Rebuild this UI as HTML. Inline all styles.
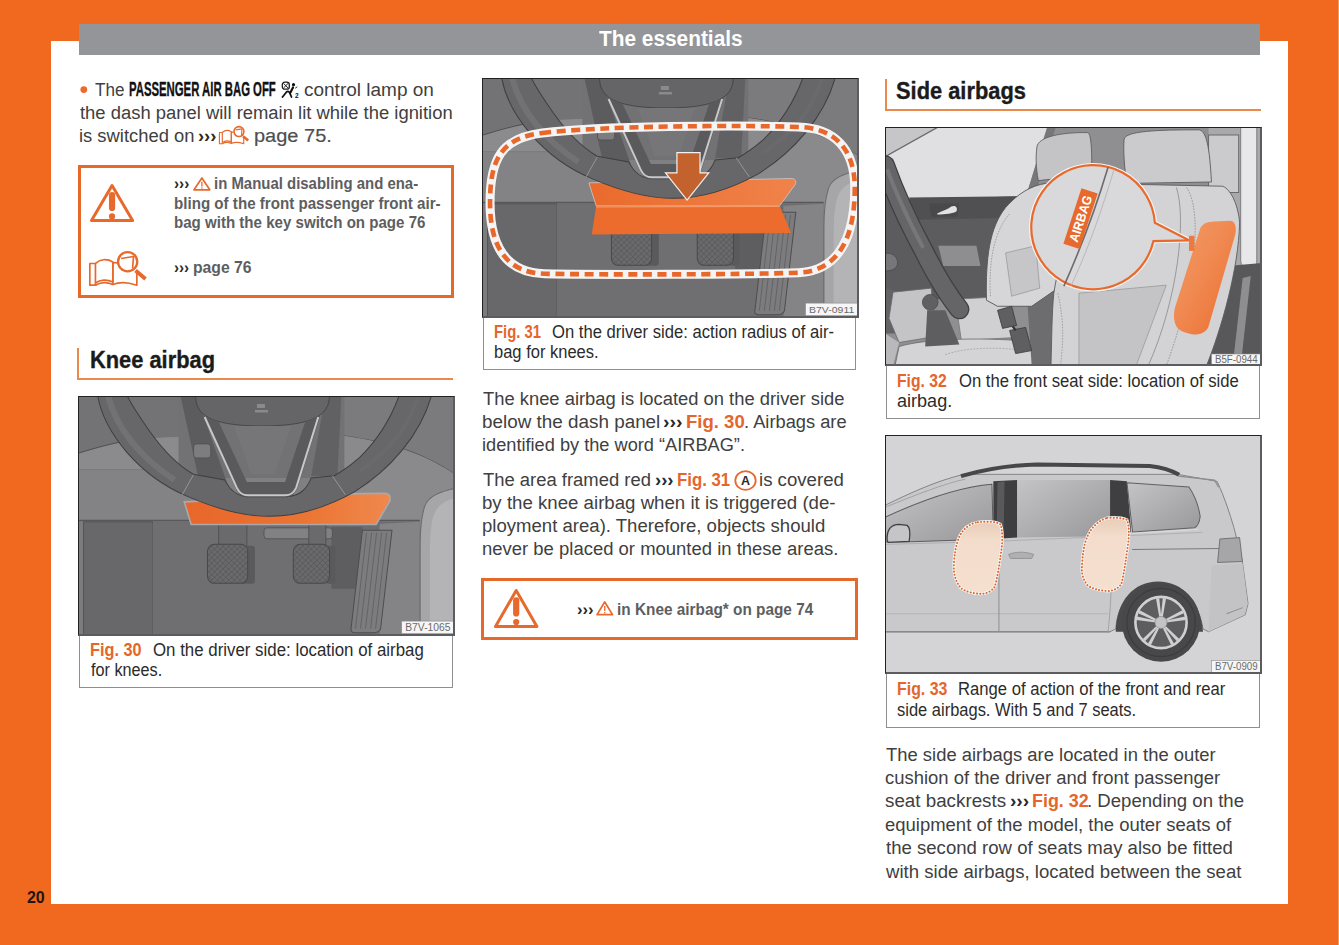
<!DOCTYPE html>
<html><head><meta charset="utf-8"><style>
html,body{margin:0;padding:0}
body{width:1339px;height:945px;overflow:hidden;position:relative;background:#f1681f;font-family:"Liberation Sans",sans-serif}
.t{position:absolute;white-space:nowrap;transform-origin:0 0}
svg{position:absolute;display:block}
</style></head><body>
<div style="position:absolute;left:51px;top:41px;width:1237px;height:863px;background:#ffffff;"></div><div style="position:absolute;left:79px;top:24px;width:1181px;height:31px;background:#939598;"></div><div style="position:absolute;left:1338px;top:0px;width:1px;height:945px;background:#fb9a5c;"></div><div class="t" style="left:598.60px;top:27.68px;font-size:22px;line-height:22px;font-weight:700;color:#ffffff;transform:scaleX(0.9470);">The essentials</div><div class="t" style="left:27.00px;top:889.03px;font-size:16.5px;line-height:16.5px;font-weight:700;color:#1e1410;transform:scaleX(0.9667);">20</div><div class="t" style="left:95.10px;top:79.55px;font-size:19.2px;line-height:19.2px;font-weight:400;color:#404040;transform:scaleX(0.8909);">The</div><div class="t" style="left:129.43px;top:79.37px;font-size:20px;line-height:20px;font-weight:700;color:#111111;transform:scaleX(0.5669);-webkit-text-stroke:0.35px #111111;">PASSENGER AIR BAG OFF</div><div class="t" style="left:303.81px;top:79.55px;font-size:19.2px;line-height:19.2px;font-weight:400;color:#404040;transform:scaleX(0.9899);">control lamp on</div><div class="t" style="left:79.70px;top:102.75px;font-size:19.2px;line-height:19.2px;font-weight:400;color:#404040;transform:scaleX(0.9599);">the dash panel will remain lit while the ignition</div><div class="t" style="left:78.54px;top:125.95px;font-size:19.2px;line-height:19.2px;font-weight:400;color:#404040;transform:scaleX(0.9576);">is switched on</div><div class="t" style="left:197.54px;top:126.12px;font-size:19px;line-height:19px;font-weight:700;color:#2a2a2a;transform:scaleX(0.9647);">&#8250;&#8250;&#8250;</div><div class="t" style="left:254.16px;top:125.95px;font-size:19.2px;line-height:19.2px;font-weight:400;color:#4e4e50;transform:scaleX(1.0417);-webkit-text-stroke:0.2px #4e4e50;">page 75.</div><div class="t" style="left:173.80px;top:175.31px;font-size:17px;line-height:17px;font-weight:700;color:#2a2a2a;transform:scaleX(0.9000);">&#8250;&#8250;&#8250;</div><div class="t" style="left:213.52px;top:175.31px;font-size:17px;line-height:17px;font-weight:700;color:#5d5e60;transform:scaleX(0.8784);">in Manual disabling and ena-</div><div class="t" style="left:173.81px;top:194.81px;font-size:17px;line-height:17px;font-weight:700;color:#5d5e60;transform:scaleX(0.8906);">bling of the front passenger front air-</div><div class="t" style="left:173.81px;top:214.21px;font-size:17px;line-height:17px;font-weight:700;color:#5d5e60;transform:scaleX(0.8872);">bag with the key switch on page 76</div><div class="t" style="left:173.91px;top:258.91px;font-size:17px;line-height:17px;font-weight:700;color:#2a2a2a;transform:scaleX(0.8933);">&#8250;&#8250;&#8250;</div><div class="t" style="left:192.67px;top:258.91px;font-size:17px;line-height:17px;font-weight:700;color:#5d5e60;transform:scaleX(0.9258);">page 76</div><div class="t" style="left:89.55px;top:349.23px;font-size:23px;line-height:23px;font-weight:700;color:#1b1b1b;transform:scaleX(0.9496);-webkit-text-stroke:0.35px #1b1b1b;">Knee airbag</div><div class="t" style="left:896.45px;top:79.73px;font-size:23px;line-height:23px;font-weight:700;color:#1b1b1b;transform:scaleX(0.9496);-webkit-text-stroke:0.35px #1b1b1b;">Side airbags</div><div class="t" style="left:89.67px;top:642.19px;font-size:17.5px;line-height:17.5px;font-weight:700;color:#e5662b;transform:scaleX(0.9296);">Fig. 30</div><div class="t" style="left:152.94px;top:642.19px;font-size:17.5px;line-height:17.5px;font-weight:400;color:#2b2b2b;transform:scaleX(0.9631);">On the driver side: location of airbag</div><div class="t" style="left:90.60px;top:661.99px;font-size:17.5px;line-height:17.5px;font-weight:400;color:#2b2b2b;transform:scaleX(0.9267);">for knees.</div><div class="t" style="left:493.65px;top:323.69px;font-size:17.5px;line-height:17.5px;font-weight:700;color:#e5662b;transform:scaleX(0.8463);">Fig. 31</div><div class="t" style="left:551.85px;top:323.69px;font-size:17.5px;line-height:17.5px;font-weight:400;color:#2b2b2b;transform:scaleX(0.9505);">On the driver side: action radius of air-</div><div class="t" style="left:493.56px;top:343.99px;font-size:17.5px;line-height:17.5px;font-weight:400;color:#2b2b2b;transform:scaleX(0.9435);">bag for knees.</div><div class="t" style="left:897.20px;top:372.89px;font-size:17.5px;line-height:17.5px;font-weight:700;color:#e5662b;transform:scaleX(0.8963);">Fig. 32</div><div class="t" style="left:958.75px;top:372.89px;font-size:17.5px;line-height:17.5px;font-weight:400;color:#2b2b2b;transform:scaleX(0.9524);">On the front seat side: location of side</div><div class="t" style="left:897.07px;top:393.49px;font-size:17.5px;line-height:17.5px;font-weight:400;color:#2b2b2b;transform:scaleX(1.0314);">airbag.</div><div class="t" style="left:896.89px;top:681.29px;font-size:17.5px;line-height:17.5px;font-weight:700;color:#e5662b;transform:scaleX(0.9093);">Fig. 33</div><div class="t" style="left:958.35px;top:681.29px;font-size:17.5px;line-height:17.5px;font-weight:400;color:#2b2b2b;transform:scaleX(0.9507);">Range of action of the front and rear</div><div class="t" style="left:896.86px;top:701.99px;font-size:17.5px;line-height:17.5px;font-weight:400;color:#2b2b2b;transform:scaleX(0.9418);">side airbags. With 5 and 7 seats.</div><div class="t" style="left:482.50px;top:388.65px;font-size:19.2px;line-height:19.2px;font-weight:400;color:#404040;transform:scaleX(0.9573);">The knee airbag is located on the driver side</div><div class="t" style="left:481.52px;top:411.85px;font-size:19.2px;line-height:19.2px;font-weight:400;color:#404040;transform:scaleX(0.9832);">below the dash panel</div><div class="t" style="left:663.48px;top:412.02px;font-size:19px;line-height:19px;font-weight:700;color:#2a2a2a;transform:scaleX(1.0176);">&#8250;&#8250;&#8250;</div><div class="t" style="left:685.73px;top:411.85px;font-size:19.2px;line-height:19.2px;font-weight:700;color:#e5662b;transform:scaleX(0.9661);">Fig. 30</div><div class="t" style="left:743.60px;top:411.85px;font-size:19.2px;line-height:19.2px;font-weight:400;color:#404040;transform:scaleX(0.9524);">. Airbags are</div><div class="t" style="left:481.55px;top:434.75px;font-size:19.2px;line-height:19.2px;font-weight:400;color:#404040;transform:scaleX(0.9484);">identified by the word &#8220;AIRBAG&#8221;.</div><div class="t" style="left:482.50px;top:469.75px;font-size:19.2px;line-height:19.2px;font-weight:400;color:#404040;transform:scaleX(0.9603);">The area framed red</div><div class="t" style="left:654.83px;top:469.92px;font-size:19px;line-height:19px;font-weight:700;color:#2a2a2a;transform:scaleX(0.9706);">&#8250;&#8250;&#8250;</div><div class="t" style="left:676.83px;top:469.75px;font-size:19.2px;line-height:19.2px;font-weight:700;color:#e5662b;transform:scaleX(0.8746);">Fig. 31</div><div class="t" style="left:758.83px;top:469.75px;font-size:19.2px;line-height:19.2px;font-weight:400;color:#404040;transform:scaleX(0.9706);">is covered</div><div class="t" style="left:481.53px;top:493.15px;font-size:19.2px;line-height:19.2px;font-weight:400;color:#404040;transform:scaleX(0.9721);">by the knee airbag when it is triggered (de-</div><div class="t" style="left:481.53px;top:516.25px;font-size:19.2px;line-height:19.2px;font-weight:400;color:#404040;transform:scaleX(0.9674);">ployment area). Therefore, objects should</div><div class="t" style="left:481.54px;top:539.35px;font-size:19.2px;line-height:19.2px;font-weight:400;color:#404040;transform:scaleX(0.9628);">never be placed or mounted in these areas.</div><div class="t" style="left:577.22px;top:600.51px;font-size:17px;line-height:17px;font-weight:700;color:#2a2a2a;transform:scaleX(0.9800);">&#8250;&#8250;&#8250;</div><div class="t" style="left:616.70px;top:600.51px;font-size:17px;line-height:17px;font-weight:700;color:#5d5e60;transform:scaleX(0.9032);">in Knee airbag* on page 74</div><div class="t" style="left:886.40px;top:745.05px;font-size:19.2px;line-height:19.2px;font-weight:400;color:#404040;transform:scaleX(0.9601);">The side airbags are located in the outer</div><div class="t" style="left:885.44px;top:768.05px;font-size:19.2px;line-height:19.2px;font-weight:400;color:#404040;transform:scaleX(0.9609);">cushion of the driver and front passenger</div><div class="t" style="left:885.42px;top:791.25px;font-size:19.2px;line-height:19.2px;font-weight:400;color:#404040;transform:scaleX(0.9787);">seat backrests</div><div class="t" style="left:1009.69px;top:791.42px;font-size:19px;line-height:19px;font-weight:700;color:#2a2a2a;transform:scaleX(1.0059);">&#8250;&#8250;&#8250;</div><div class="t" style="left:1031.87px;top:791.25px;font-size:19.2px;line-height:19.2px;font-weight:700;color:#e5662b;transform:scaleX(0.9339);">Fig. 32</div><div class="t" style="left:1086.96px;top:791.25px;font-size:19.2px;line-height:19.2px;font-weight:400;color:#404040;transform:scaleX(0.9681);">. Depending on the</div><div class="t" style="left:885.44px;top:814.75px;font-size:19.2px;line-height:19.2px;font-weight:400;color:#404040;transform:scaleX(0.9627);">equipment of the model, the outer seats of</div><div class="t" style="left:886.40px;top:838.25px;font-size:19.2px;line-height:19.2px;font-weight:400;color:#404040;transform:scaleX(0.9681);">the second row of seats may also be fitted</div><div class="t" style="left:886.40px;top:861.55px;font-size:19.2px;line-height:19.2px;font-weight:400;color:#404040;transform:scaleX(0.9687);">with side airbags, located between the seat</div><div style="position:absolute;left:78px;top:165px;width:370px;height:127px;border:3px solid #e6682b"></div><div style="position:absolute;left:481px;top:578px;width:370.5px;height:55.5px;border:3px solid #e6682b"></div><div style="position:absolute;left:78.5px;top:635px;width:374.0px;height:52.799999999999955px;box-sizing:border-box;border:1.2px solid #8e8f92;border-top:none"></div><div style="position:absolute;left:482.5px;top:317px;width:373.79999999999995px;height:52.60000000000002px;box-sizing:border-box;border:1.2px solid #8e8f92;border-top:none"></div><div style="position:absolute;left:885.5px;top:365px;width:374.0999999999999px;height:53.60000000000002px;box-sizing:border-box;border:1.2px solid #8e8f92;border-top:none"></div><div style="position:absolute;left:885.5px;top:674px;width:374.29999999999995px;height:53.60000000000002px;box-sizing:border-box;border:1.2px solid #8e8f92;border-top:none"></div><div style="position:absolute;left:77px;top:348px;width:2px;height:32px;background:#e98a4c;"></div><div style="position:absolute;left:77px;top:378px;width:376px;height:2px;background:#e98a4c;"></div><div style="position:absolute;left:884.5px;top:79px;width:2px;height:32px;background:#e98a4c;"></div><div style="position:absolute;left:884.5px;top:109px;width:376px;height:2px;background:#e98a4c;"></div><svg style="left:78px;top:396px" width="377" height="239.7" viewBox="0 0 375 240" preserveAspectRatio="none"><rect width="375" height="240" fill="#808083"/><path d="M0,0 H120 V40 L75.6,42 C55,43 36,46 0,57.4 Z" fill="#737376"/><path d="M0,57.4 C36,46 55,43 75.6,42 L120,40 V74.2 H0 Z" fill="#8b8b8e"/><path d="M0,57.4 C36,46 55,43 75.6,42" fill="none" stroke="#505053" stroke-width="1"/><path d="M0,74.2 H120" stroke="#5f5f62" stroke-width="0.8"/><rect x="0" y="74.2" width="120" height="50.4" fill="#838386"/><path d="M255,0 H375 V78.4 C350,62 322,47.6 260.5,39.2 Z" fill="#7b7b7e"/><path d="M260.5,39.2 C322,47.6 350,62 375,78.4" fill="none" stroke="#505053" stroke-width="1"/><path d="M260,39 C322,48 350,62 375,78.4 V130 H250 Z" fill="#8a8a8d"/><path d="M0,124.6 H340" stroke="#58585b" stroke-width="1.6"/><rect x="0" y="125.5" width="340" height="114.5" fill="#6d6d70"/><rect x="0" y="125.5" width="5.6" height="114.5" fill="#7c7c7f"/><rect x="5.6" y="126" width="68.6" height="114" fill="#68686b" stroke="#4e4e51" stroke-width="0.8"/><rect x="74.2" y="127" width="206" height="113" fill="#6f6f72"/><path d="M300,128 L340,126 V240 H300 Z" fill="#848487"/><path d="M375,92.4 C360,96 349,100 345,110 C341,122 340.3,134 340.3,150 V240 H375 Z" fill="#a6a6a9" stroke="#69696c" stroke-width="1"/><path d="M375,102 C365,105 356,110 353,122 C350,135 350,150 350,165 V240 H375 Z" fill="#b4b4b7"/><rect x="252" y="131" width="31" height="62" fill="#5e5e61"/><rect x="185" y="132" width="68" height="11" rx="3" fill="#818184" stroke="#4f4f52" stroke-width="0.8"/><rect x="140" y="128" width="28" height="24" fill="#6a6a6d" stroke="#4b4b4e" stroke-width="0.8"/><rect x="229.6" y="128" width="17" height="24" fill="#6a6a6d" stroke="#4b4b4e" stroke-width="0.8"/><defs><pattern id="hatch" width="4" height="4" patternUnits="userSpaceOnUse" patternTransform="rotate(45)"><rect width="4" height="4" fill="#6a6a6d"/><path d="M0,0 H4 M0,0 V4" stroke="#4f4f52" stroke-width="0.9"/></pattern></defs><rect x="162" y="150" width="14" height="38" rx="3" fill="#5a5a5d"/><rect x="128.8" y="148.4" width="40" height="39.2" rx="7" fill="url(#hatch)" stroke="#48484b" stroke-width="1"/><rect x="246" y="150" width="10" height="38" rx="3" fill="#5a5a5d"/><rect x="214.2" y="148.4" width="36" height="39.2" rx="7" fill="url(#hatch)" stroke="#48484b" stroke-width="1"/><path d="M282.9,134.4 L312.3,134.4 L301,233 C300,236 297,237 294,237 L275,237 C272,237 271,235 271.7,232 Z" fill="#7c7c7f" stroke="#4d4d50" stroke-width="1"/><path d="M287,137 L276,233" stroke="#616164" stroke-width="0.9"/><path d="M292,137 L281,233" stroke="#616164" stroke-width="0.9"/><path d="M297,137 L286,233" stroke="#616164" stroke-width="0.9"/><path d="M302,137 L291,233" stroke="#616164" stroke-width="0.9"/><path d="M307,137 L296,233" stroke="#616164" stroke-width="0.9"/><path d="M100,0 H265 V82 H100 Z" fill="#727275"/><path d="M102,0 H118 L150,92 H122 Z" fill="#5c5c5f"/><path d="M246,0 H262 L258,80 H232 Z" fill="#616164"/><rect x="115" y="48" width="17" height="14" rx="3" fill="#7d7d80" stroke="#4c4c4f" stroke-width="0.7"/><defs><linearGradient id="og30" x1="0" x2="1" y1="0" y2="0"><stop offset="0" stop-color="#e8662a"/><stop offset="0.6" stop-color="#eb7534"/><stop offset="1" stop-color="#f0884d"/></linearGradient></defs><path d="M105.7,106 L112.6,128.6 L296.5,128.6 L310.2,105.2 C311,99 309,97.5 305,97.5 L262,98 L200,102 Z" fill="url(#og30)" stroke="#a9a9ac" stroke-width="1.6"/><path d="M19.6,0 C26,36 60,80 110,101 C140,114 165,120.5 190,120.5 C220,120.5 250,110 275,96 C310,74 340,40 351.5,0 L319.3,0 C312,20 300,42 280,61.6 C268,72 258,78 254.8,79.8 L232,82 C228,92 222,100 207,101 L168,101 C156,100 150,92 146,84 L114.8,78.4 C100,70 85,55 70,33.6 C62,22 54,10 49,0 Z" fill="#67676a" stroke="#3f3f42" stroke-width="1"/><path d="M30,0 C38,32 62,62 96,84" fill="none" stroke="#7a7a7d" stroke-width="6" opacity="0.6"/><path d="M338,0 C330,30 310,55 280,75" fill="none" stroke="#6c6c6f" stroke-width="4" opacity="0.6"/><path d="M114.8,79 L103.6,99" stroke="#9a9a9d" stroke-width="0.9"/><path d="M253,80 L266,99" stroke="#9a9a9d" stroke-width="0.9"/><path d="M117,0 H250 C250,18 236,30 183,30 C130,30 117,18 117,0 Z" fill="#656568" stroke="#3f3f42" stroke-width="0.8"/><rect x="178" y="8" width="8" height="4" fill="#8a8a8d"/><rect x="176" y="14" width="13" height="2.5" fill="#8a8a8d"/><path d="M124.6,19.6 L156.8,92.4 C160,99 163,101 168,101 L207.2,101 C212,101 215,99 218.4,92.4 L240.8,19.6 L226,26 L206,86 L168,86 L140,26 Z" fill="#5a5a5d"/><path d="M155,30 H212 L196,78 H172 Z" fill="#767679"/><path d="M126,21 L158,92 C161,98 164,99.5 169,99.5 L206,99.5 C211,99.5 214,98 217,92 L239,21" fill="none" stroke="#c8c8ca" stroke-width="2"/><rect x="322" y="225.4" width="52" height="12.6" fill="#f6f6f6" stroke="#8a8a8a" stroke-width="0.6"/><text x="348.0" y="235.4" text-anchor="middle" font-family="Liberation Sans" font-size="10" fill="#6a6a6a" textLength="45" lengthAdjust="spacingAndGlyphs">B7V-1065</text></svg><div style="position:absolute;left:78px;top:396px;width:377px;height:239.70000000000005px;box-sizing:border-box;border-top:1.5px solid #222;border-left:1.5px solid #222;border-right:2px solid #5c5c5e;border-bottom:2px solid #5c5c5e"></div><svg style="left:482px;top:78px" width="376.8" height="239.7" viewBox="0 0 375 240" preserveAspectRatio="none"><rect width="375" height="240" fill="#808083"/><path d="M0,0 H120 V40 L75.6,42 C55,43 36,46 0,57.4 Z" fill="#737376"/><path d="M0,57.4 C36,46 55,43 75.6,42 L120,40 V74.2 H0 Z" fill="#8b8b8e"/><path d="M0,57.4 C36,46 55,43 75.6,42" fill="none" stroke="#505053" stroke-width="1"/><path d="M0,74.2 H120" stroke="#5f5f62" stroke-width="0.8"/><rect x="0" y="74.2" width="120" height="50.4" fill="#838386"/><path d="M255,0 H375 V78.4 C350,62 322,47.6 260.5,39.2 Z" fill="#7b7b7e"/><path d="M260.5,39.2 C322,47.6 350,62 375,78.4" fill="none" stroke="#505053" stroke-width="1"/><path d="M260,39 C322,48 350,62 375,78.4 V130 H250 Z" fill="#8a8a8d"/><path d="M0,124.6 H340" stroke="#58585b" stroke-width="1.6"/><rect x="0" y="125.5" width="340" height="114.5" fill="#6d6d70"/><rect x="0" y="125.5" width="5.6" height="114.5" fill="#7c7c7f"/><rect x="5.6" y="126" width="68.6" height="114" fill="#68686b" stroke="#4e4e51" stroke-width="0.8"/><rect x="74.2" y="127" width="206" height="113" fill="#6f6f72"/><path d="M300,128 L340,126 V240 H300 Z" fill="#848487"/><path d="M375,92.4 C360,96 349,100 345,110 C341,122 340.3,134 340.3,150 V240 H375 Z" fill="#a6a6a9" stroke="#69696c" stroke-width="1"/><path d="M375,102 C365,105 356,110 353,122 C350,135 350,150 350,165 V240 H375 Z" fill="#b4b4b7"/><rect x="252" y="131" width="31" height="62" fill="#5e5e61"/><rect x="185" y="132" width="68" height="11" rx="3" fill="#818184" stroke="#4f4f52" stroke-width="0.8"/><rect x="140" y="128" width="28" height="24" fill="#6a6a6d" stroke="#4b4b4e" stroke-width="0.8"/><rect x="229.6" y="128" width="17" height="24" fill="#6a6a6d" stroke="#4b4b4e" stroke-width="0.8"/><defs><pattern id="hatch" width="4" height="4" patternUnits="userSpaceOnUse" patternTransform="rotate(45)"><rect width="4" height="4" fill="#6a6a6d"/><path d="M0,0 H4 M0,0 V4" stroke="#4f4f52" stroke-width="0.9"/></pattern></defs><rect x="162" y="150" width="14" height="38" rx="3" fill="#5a5a5d"/><rect x="128.8" y="148.4" width="40" height="39.2" rx="7" fill="url(#hatch)" stroke="#48484b" stroke-width="1"/><rect x="246" y="150" width="10" height="38" rx="3" fill="#5a5a5d"/><rect x="214.2" y="148.4" width="36" height="39.2" rx="7" fill="url(#hatch)" stroke="#48484b" stroke-width="1"/><path d="M282.9,134.4 L312.3,134.4 L301,233 C300,236 297,237 294,237 L275,237 C272,237 271,235 271.7,232 Z" fill="#7c7c7f" stroke="#4d4d50" stroke-width="1"/><path d="M287,137 L276,233" stroke="#616164" stroke-width="0.9"/><path d="M292,137 L281,233" stroke="#616164" stroke-width="0.9"/><path d="M297,137 L286,233" stroke="#616164" stroke-width="0.9"/><path d="M302,137 L291,233" stroke="#616164" stroke-width="0.9"/><path d="M307,137 L296,233" stroke="#616164" stroke-width="0.9"/><path d="M100,0 H265 V82 H100 Z" fill="#727275"/><path d="M102,0 H118 L150,92 H122 Z" fill="#5c5c5f"/><path d="M246,0 H262 L258,80 H232 Z" fill="#616164"/><rect x="115" y="48" width="17" height="14" rx="3" fill="#7d7d80" stroke="#4c4c4f" stroke-width="0.7"/><defs><linearGradient id="og31" x1="0" x2="1" y1="0" y2="0"><stop offset="0" stop-color="#ea6a2c"/><stop offset="1" stop-color="#f0834a"/></linearGradient></defs><path d="M106.4,105 L309,100.6 C312,101 313,104 311.9,106.4 L296.2,128 L113.6,128 Z" fill="url(#og31)" stroke="#c9c9cb" stroke-width="0.8"/><path d="M19.6,0 C26,36 60,80 110,101 C140,114 165,120.5 190,120.5 C220,120.5 250,110 275,96 C310,74 340,40 351.5,0 L319.3,0 C312,20 300,42 280,61.6 C268,72 258,78 254.8,79.8 L232,82 C228,92 222,100 207,101 L168,101 C156,100 150,92 146,84 L114.8,78.4 C100,70 85,55 70,33.6 C62,22 54,10 49,0 Z" fill="#67676a" stroke="#3f3f42" stroke-width="1"/><path d="M30,0 C38,32 62,62 96,84" fill="none" stroke="#7a7a7d" stroke-width="6" opacity="0.6"/><path d="M338,0 C330,30 310,55 280,75" fill="none" stroke="#6c6c6f" stroke-width="4" opacity="0.6"/><path d="M114.8,79 L103.6,99" stroke="#9a9a9d" stroke-width="0.9"/><path d="M253,80 L266,99" stroke="#9a9a9d" stroke-width="0.9"/><path d="M117,0 H250 C250,18 236,30 183,30 C130,30 117,18 117,0 Z" fill="#656568" stroke="#3f3f42" stroke-width="0.8"/><rect x="178" y="8" width="8" height="4" fill="#8a8a8d"/><rect x="176" y="14" width="13" height="2.5" fill="#8a8a8d"/><path d="M124.6,19.6 L156.8,92.4 C160,99 163,101 168,101 L207.2,101 C212,101 215,99 218.4,92.4 L240.8,19.6 L226,26 L206,86 L168,86 L140,26 Z" fill="#5a5a5d"/><path d="M155,30 H212 L196,78 H172 Z" fill="#767679"/><path d="M126,21 L158,92 C161,98 164,99.5 169,99.5 L206,99.5 C211,99.5 214,98 217,92 L239,21" fill="none" stroke="#c8c8ca" stroke-width="2"/><path d="M113.6,128.5 L296.2,128 L307.6,155.3 L109.2,156.7 Z" fill="#eb6c2d"/><path d="M113.6,129 L296.2,128.5" stroke="#f49a68" stroke-width="1.2"/><path d="M194,74.8 H217 V94.9 H225.7 L204.1,122.2 L182.6,94.9 H194 Z" fill="#c4622e" stroke="#f2f2f2" stroke-width="1.2"/><path d="M60,55 C120,48 250,47 315,49 C350,50 371,70 371,110 C371,160 355,193 315,195 C250,197 120,197 62,196 C25,195 8,170 8,125 C8,80 20,60 60,55 Z" fill="none" stroke="#f4f4f4" stroke-width="9"/><path d="M60,55 C120,48 250,47 315,49 C350,50 371,70 371,110 C371,160 355,193 315,195 C250,197 120,197 62,196 C25,195 8,170 8,125 C8,80 20,60 60,55 Z" fill="none" stroke="#e8672b" stroke-width="4.6" stroke-dasharray="9 5.5"/><rect x="322" y="225.4" width="52" height="12.6" fill="#f6f6f6" stroke="#8a8a8a" stroke-width="0.6"/><text x="348.0" y="235.4" text-anchor="middle" font-family="Liberation Sans" font-size="10" fill="#6a6a6a" textLength="45" lengthAdjust="spacingAndGlyphs">B7V-0911</text></svg><div style="position:absolute;left:482px;top:78px;width:376.79999999999995px;height:239.7px;box-sizing:border-box;border-top:1.5px solid #222;border-left:1.5px solid #222;border-right:2px solid #5c5c5e;border-bottom:2px solid #5c5c5e"></div><svg style="left:885px;top:127px" width="376.8" height="238.7" viewBox="0 0 375 237" preserveAspectRatio="none"><rect width="375" height="237" fill="#8f8f92"/><path d="M0,0 H56 L0,30 Z" fill="#c6c6c9"/><path d="M0,30 L53,0 H161.5 L140.4,68.8 L0,72 Z" fill="#e0e0e2"/><path d="M0,29.5 L53,0" stroke="#6a6a6d" stroke-width="1.4"/><path d="M161.5,0 L140.4,68.8 L148,72 L170,0 Z" fill="#77777a"/><path d="M0,36 L21,120 L14,205 H0 Z" fill="#636366"/><path d="M0,72 L140.4,68.8 L128,170 L101,172 L53,171 L0,160 Z" fill="#5c5c5f"/><path d="M24,70 L140,68.8 L137,90 L28,92 Z" fill="#505053"/><path d="M44,76 H74 L72,89 H46 Z" fill="#49494c"/><path d="M52,86 C58,83 62,82 66,79 C70,77 73,80 71,84 C68,86 60,87 52,87 Z" fill="#e2e2e4"/><path d="M53,118 L91,118 L95,138 L58,138 Z" fill="#8e8e91"/><path d="M0,126 C6,124 12,128 12.6,134 C13,140 8,143 0,143 Z" fill="#77777a" stroke="#4a4a4d" stroke-width="0.8"/><path d="M8,164 L46,160 L50,208 L14,214 L4,190 Z" fill="#c4c4c7" stroke="#6a6a6d" stroke-width="0.8"/><path d="M70,171 L126,168 L130,209 L76,212 Z" fill="#d0d0d3" stroke="#77777a" stroke-width="0.8"/><path d="M0,205 L14,214 L8,237 H0 Z" fill="#b9b9bc"/><path d="M14,218 C40,210 100,208 156,214 L160,237 H10 Z" fill="#d4d4d7" stroke="#6a6a6d" stroke-width="0.8"/><path d="M60,226 C80,219 110,218 140,222" fill="none" stroke="#9a9a9d" stroke-width="0.7" stroke-dasharray="1.8 1.4"/><path d="M42,182 L60,182 L74,216 L40,218 Z" fill="#5e5e61"/><circle cx="45" cy="174" r="7.8" fill="#606063" stroke="#444447" stroke-width="0.7"/><path d="M0,38 C10,66 24,96 38,122 C50,146 62,166 74,181" fill="none" stroke="#3f3f42" stroke-width="20" stroke-linecap="round"/><path d="M0,38 C10,66 24,96 38,122 C50,146 62,166 74,181" fill="none" stroke="#656568" stroke-width="17.5" stroke-linecap="round"/><path d="M2,42 C12,68 25,96 38,120" fill="none" stroke="#77777a" stroke-width="4"/><path d="M140,150 L172,140 L170,237 H146 Z" fill="#6d6d70"/><path d="M101,172 C100,130 104,100 120,80 C132,66 146,58 160,56 L175,58 L172,160 L146,178 L112,178 Z" fill="#d6d6d9" stroke="#555558" stroke-width="0.9"/><path d="M120,125 L150,118 L154,160 L126,168 Z" fill="#c6c6c9" stroke="#8a8a8d" stroke-width="0.6"/><path d="M105,168 C103,135 108,105 124,86" fill="none" stroke="#8a8a8d" stroke-width="0.7" stroke-dasharray="1.6 1.2"/><path d="M151.2,20 C152,10 175,5 201.6,5.6 C205,6 206,20 205.8,47.6 L152.6,53.2 C150,40 150,28 151.2,20 Z" fill="#c4c4c7" stroke="#5f5f62" stroke-width="0.9"/><rect x="322" y="0" width="53" height="237" fill="#a9a9ac"/><path d="M322,8 H352 V65 H322 Z" fill="#cbcbce" stroke="#6a6a6d" stroke-width="1"/><path d="M354,0 H370 V135 C370,139 366,140 362,140 C357,140 354,137 354,132 Z" fill="#e8e8ea" stroke="#77777a" stroke-width="0.9"/><path d="M318,140 L375,135 V237 H300 Z" fill="#58585b"/><path d="M356,150 L364,148 L354,237 H346 Z" fill="#8e8e91"/><path d="M201.6,56 L336,58.8 C345,62 352,80 352.9,95.2 C352,140 335,200 320,237 L165.2,237 C166,210 166,185 168,165.2 C175,120 190,80 201.6,56 Z" fill="#d3d3d6" stroke="#5c5c5f" stroke-width="0.9"/><path d="M193,165 L280,157 L250,237 L193,237 Z" fill="#c4c4c7" stroke="#8a8a8d" stroke-width="0.6"/><path d="M300,60 C315,80 312,150 280,237" fill="none" stroke="#8d8d90" stroke-width="0.8" stroke-dasharray="1.6 1.2"/><path d="M290,60 C300,90 292,170 262,237" fill="none" stroke="#8a8a8d" stroke-width="0.8"/><path d="M172,165 C180,200 176,220 175,237" fill="none" stroke="#8d8d90" stroke-width="0.7" stroke-dasharray="1.6 1.2"/><path d="M238,12 C240,4 270,2.8 312,2.8 C320,3 323,20 324.9,54.6 L240.8,56 C238,40 237,22 238,12 Z" fill="#cbcbce" stroke="#5c5c5f" stroke-width="0.9"/><path d="M112,182 L126,178 L131,197 L117,200 Z" fill="#5f5f62" stroke="#3a3a3d" stroke-width="0.8"/><path d="M124,202 L140,199 L146,222 L130,225 Z" fill="#5f5f62" stroke="#3a3a3d" stroke-width="0.8"/><path d="M127,198 L130,202" stroke="#2f2f32" stroke-width="2"/><defs><linearGradient id="og32" x1="0" x2="1" y1="0" y2="1"><stop offset="0" stop-color="#f39a66"/><stop offset="0.45" stop-color="#f08a52"/><stop offset="1" stop-color="#eb6c2e"/></linearGradient></defs><path d="M327.7,93.8 L343,93 C348,93 350,98 348.7,106.4 L322,198 C320,204 312,207 305.3,205.8 C294,204 289,200 288,192 C287,186 288,182 289,178 L313.7,100.8 C316,96 320,94 327.7,93.8 Z" fill="url(#og32)"/><path d="M267.2,113.3 A61.6,61.6 0 1 1 268.6,95.1 L302.5,112.5 Z" fill="#d9d9db" stroke="#f4f4f4" stroke-width="4.5" stroke-linejoin="round"/><path d="M267.2,113.3 A61.6,61.6 0 1 1 268.6,95.1 L302.5,112.5 Z" fill="#d9d9db" stroke="#e8692c" stroke-width="2.2" stroke-linejoin="miter"/><path d="M222,40 C210,80 195,120 178,158" fill="none" stroke="#6c6c6f" stroke-width="1.6"/><path d="M228,42 C216,82 202,122 185,158" fill="none" stroke="#b0b0b3" stroke-width="0.8"/><g transform="translate(194.6,91) rotate(-72)"><rect x="-29" y="-8.5" width="58" height="17" fill="#e8692c"/><text x="0" y="4.6" text-anchor="middle" font-family="Liberation Sans" font-weight="700" font-size="13" fill="#ffffff" textLength="48" lengthAdjust="spacingAndGlyphs">AIRBAG</text></g><rect x="302.5" y="108" width="5.5" height="15" fill="#ec7a40"/><rect x="324.9" y="225.4" width="49.5" height="11.4" fill="#f6f6f6" stroke="#8a8a8a" stroke-width="0.6"/><text x="349.65" y="234.20000000000002" text-anchor="middle" font-family="Liberation Sans" font-size="10" fill="#6a6a6a" textLength="42.5" lengthAdjust="spacingAndGlyphs">B5F-0944</text></svg><div style="position:absolute;left:885px;top:127px;width:376.79999999999995px;height:238.7px;box-sizing:border-box;border-top:1.5px solid #222;border-left:1.5px solid #222;border-right:2px solid #5c5c5e;border-bottom:2px solid #5c5c5e"></div><svg style="left:885px;top:435px" width="376.8" height="239.4" viewBox="0 0 375 238.5" preserveAspectRatio="none"><rect width="375" height="238.5" fill="#d4d4d6"/><path d="M0,70 C25,58 50,46 78.4,39.2 L291.3,39.2 L330.5,46.2 C338,62 343,78 347.3,92.4 L355.7,126 L361.3,168 L358.5,179.2 L322,196 L316.5,193.2 C312,165 295,148.4 271.7,148.4 C248,148.4 232,165 229.6,193.2 L224,196 L0,196 Z" fill="#c9c9cc" stroke="#7c7c7f" stroke-width="0.9"/><path d="M0,178 H222" stroke="#b5b5b8" stroke-width="1"/><path d="M0,196 H224" stroke="#8a8a8d" stroke-width="1.4"/><path d="M325,130 L356,128 L361,168 L358,179 L322,196 Z" fill="#c3c3c6"/><path d="M75.6,41 C100,34 130,30 151.2,29.4 L263.3,30.8 C275,32 285,35 292.7,39.6" fill="none" stroke="#47474a" stroke-width="4"/><path d="M292,41 L328,45 L332,52" fill="none" stroke="#8d8d90" stroke-width="1.2"/><defs><linearGradient id="win" x1="0" y1="0" x2="1" y2="1"><stop offset="0" stop-color="#c4c4c7"/><stop offset="1" stop-color="#98989b"/></linearGradient></defs><path d="M0,82 C30,68 70,52 106.4,49 L107.8,103.6 L25,106.4 L0,106.4 Z" fill="url(#win)" stroke="#5c5c5f" stroke-width="1"/><path d="M0,72 C30,60 60,48 80,44" fill="none" stroke="#9a9a9d" stroke-width="0.8"/><path d="M2,104 C2,94 6,89 14,89 L22,90 C25,92 25,100 24,106 L3,107 Z" fill="#c5c5c8" stroke="#3f3f42" stroke-width="1.3"/><path d="M107.8,46.2 L131.6,44.8 L131.6,102.2 L107.8,103.6 Z" fill="#3e3e41"/><path d="M112,47 L119,46 L118,102 L111,102 Z" fill="#59595c"/><path d="M131.6,44.8 L224,44.8 L224,100.8 L131.6,102.2 Z" fill="url(#win)"/><path d="M224,44.8 L240.8,46.2 L245,96.6 L224,100.8 Z" fill="#3f3f42"/><path d="M240.8,47.6 L302.5,51.8 C308,60 312,70 313.7,81.2 C313,87 311,91 308,92.4 L246.4,96.6 Z" fill="url(#win)" stroke="#606063" stroke-width="1"/><path d="M246,98 L312,94" stroke="#e0e0e2" stroke-width="0.8"/><path d="M0,109 L107.8,106 L316,97" fill="none" stroke="#a9a9ac" stroke-width="0.8"/><path d="M113.4,104 V196" stroke="#8a8a8d" stroke-width="0.9"/><path d="M224,101 C226,130 226,160 222,196" fill="none" stroke="#9a9a9d" stroke-width="0.8"/><path d="M246,114 L333,113" stroke="#7a7a7d" stroke-width="1"/><path d="M123,119 C130,116 140,116 148,119 L146,123 L125,123 Z" fill="#b0b0b3" stroke="#7d7d80" stroke-width="0.6"/><path d="M333.3,103.6 L352.9,102.2 L355.7,126 L331,127 Z" fill="#a6a6a9" stroke="#6c6c6f" stroke-width="0.9"/><path d="M340,178 L356,172" stroke="#8e8e91" stroke-width="1"/><path d="M229.6,196 C230,165 248,146 271.7,146 C296,146 314,165 316.5,196 Z" fill="#4a4a4d"/><circle cx="274.7" cy="186.8" r="39" fill="#48484b"/><circle cx="274.7" cy="186.8" r="34" fill="none" stroke="#3c3c3f" stroke-width="1.2"/><circle cx="274.7" cy="186.8" r="25.5" fill="#5d5d60" stroke="#d0d0d3" stroke-width="2.6"/><path d="M273.1,182.1 L269.7,162.8 L272.9,162.4 L275.0,181.8 Z" fill="#cfcfd2"/><path d="M274.4,181.8 L276.5,162.4 L279.7,162.8 L276.3,182.1 Z" fill="#cfcfd2"/><path d="M278.7,183.8 L295.9,174.6 L297.4,177.6 L279.5,185.5 Z" fill="#cfcfd2"/><path d="M279.4,185.0 L298.5,180.9 L299.1,184.2 L279.7,186.9 Z" fill="#cfcfd2"/><path d="M278.8,189.7 L292.9,203.2 L290.5,205.5 L277.4,191.0 Z" fill="#cfcfd2"/><path d="M277.9,190.7 L287.6,207.6 L284.7,209.2 L276.1,191.6 Z" fill="#cfcfd2"/><path d="M273.3,191.6 L264.7,209.2 L261.8,207.6 L271.5,190.7 Z" fill="#cfcfd2"/><path d="M272.0,191.0 L258.9,205.5 L256.5,203.2 L270.6,189.7 Z" fill="#cfcfd2"/><path d="M269.7,186.9 L250.3,184.2 L250.9,180.9 L270.0,185.0 Z" fill="#cfcfd2"/><path d="M269.9,185.5 L252.0,177.6 L253.5,174.6 L270.7,183.8 Z" fill="#cfcfd2"/><circle cx="274.7" cy="186.8" r="6" fill="#c3c3c6" stroke="#8a8a8d" stroke-width="0.7"/><defs><linearGradient id="ab" x1="0" y1="0" x2="0" y2="1"><stop offset="0" stop-color="#e7cdb9"/><stop offset="0.25" stop-color="#f3dccb"/><stop offset="1" stop-color="#f5dfce"/></linearGradient></defs><path d="M92.4,86.8 C100,86 110,86 114.8,89 C117,94 117,104 116.2,112 C114,128 112,142 109.2,151.2 C106,156 100,158.5 95.2,158.2 C88,158 80,156 75.6,152.6 C70,146 68,138 68.6,128.8 C69,118 71,108 74.2,100.8 C78,93 85,88 92.4,86.8 Z" fill="url(#ab)" stroke="#f7f7f7" stroke-width="3"/><path d="M92.4,86.8 C100,86 110,86 114.8,89 C117,94 117,104 116.2,112 C114,128 112,142 109.2,151.2 C106,156 100,158.5 95.2,158.2 C88,158 80,156 75.6,152.6 C70,146 68,138 68.6,128.8 C69,118 71,108 74.2,100.8 C78,93 85,88 92.4,86.8 Z" fill="none" stroke="#e0652c" stroke-width="1.9" stroke-dasharray="0.2 3" stroke-linecap="round"/><path d="M221.2,82.6 C228,82 236,82.5 240.8,84.5 C243,90 243,98 242.2,106.4 C240,122 238,138 235.2,148.4 C232,153 227,155.5 221.2,155.4 C213,155 206,153 201.6,149.8 C197,144 195.5,138 196,131.6 C196.5,120 198,108 201.6,100.8 C206,91 213,85 221.2,82.6 Z" fill="url(#ab)" stroke="#f7f7f7" stroke-width="3"/><path d="M221.2,82.6 C228,82 236,82.5 240.8,84.5 C243,90 243,98 242.2,106.4 C240,122 238,138 235.2,148.4 C232,153 227,155.5 221.2,155.4 C213,155 206,153 201.6,149.8 C197,144 195.5,138 196,131.6 C196.5,120 198,108 201.6,100.8 C206,91 213,85 221.2,82.6 Z" fill="none" stroke="#e0652c" stroke-width="1.9" stroke-dasharray="0.2 3" stroke-linecap="round"/><rect x="324.9" y="224.5" width="49.5" height="12.5" fill="#f6f6f6" stroke="#8a8a8a" stroke-width="0.6"/><text x="349.65" y="234.4" text-anchor="middle" font-family="Liberation Sans" font-size="10" fill="#6a6a6a" textLength="42.5" lengthAdjust="spacingAndGlyphs">B7V-0909</text></svg><div style="position:absolute;left:885px;top:435px;width:376.79999999999995px;height:239.39999999999998px;box-sizing:border-box;border-top:1.5px solid #222;border-left:1.5px solid #222;border-right:2px solid #5c5c5e;border-bottom:2px solid #5c5c5e"></div><svg style="left:80px;top:86px" width="8" height="8" viewBox="0 0 8 8"><circle cx="3.8" cy="3.6" r="3.4" fill="#ee6a2a"/></svg><svg style="left:281px;top:80.5px" width="19" height="17.5" viewBox="0 0 19 17.5"><rect x="1.3" y="1.2" width="7" height="7" rx="2.5" fill="none" stroke="#1a1a1a" stroke-width="1.3"/><path d="M2.6,2.5 L7,6.9 M7,2.5 L2.6,6.9" stroke="#1a1a1a" stroke-width="1"/><circle cx="12.5" cy="3.7" r="1.6" fill="#111"/><path d="M1.5,16 L5.5,11 C6.5,10 7.5,10.2 8.5,11.5 L10.5,16" fill="none" stroke="#111" stroke-width="1.8" stroke-linecap="round"/><path d="M9.3,11.8 L12,6.5" stroke="#111" stroke-width="2.2" stroke-linecap="round"/><path d="M14.2,7.2 L16.3,5.8" stroke="#333" stroke-width="1"/><text x="14" y="16.8" font-family="Liberation Sans" font-size="6.5" font-weight="700" fill="#111">2</text></svg><svg style="left:219.4px;top:125.6px" width="30" height="18.2" viewBox="0 0 58 35" overflow="visible"><g fill="none" stroke="#e8692c" stroke-width="2.2" stroke-linejoin="round"><path d="M0.8,12.5 H6.4 V34.2 H0.8 Z"/><path d="M6.4,12.5 C11,8 18,7.5 23.8,11 V31 C18,28 11,28.5 6.4,32"/><path d="M6.4,34.2 C12,31 18,31 23.8,33.5 C30,31 38,31 47.8,34.2 V20"/><path d="M23.8,11 V33.5"/><path d="M23.8,12 C25.5,11.5 27,11.5 28.5,12"/><circle cx="38.6" cy="10.7" r="9.6" stroke-width="2.9700000000000006"/><path d="M32,7.5 L44.5,5.5 L43.5,17.5"/></g><path d="M46.5,19.5 L56.5,28" stroke="#e8692c" stroke-width="5.06" stroke-linecap="butt"/></svg><svg style="left:86.6px;top:181.3px" width="50.1" height="44.1" viewBox="-3 -3 50.1 44.1"><path d="M22.05,1.5 L42.6,36.6 L1.5,36.6 Z" fill="none" stroke="#e8692c" stroke-width="3" stroke-linejoin="round"/><rect x="18.95" y="8.001" width="6.2" height="19.05" rx="3.1" fill="#e8692c"/><circle cx="22.05" cy="32.385" r="3.1" fill="#e8692c"/></svg><svg style="left:191.7px;top:175.8px" width="19.8" height="15.8" viewBox="-1 -1 19.8 15.8"><path d="M8.9,1 L16.8,12.8 L1,12.8 Z" fill="none" stroke="#e8692c" stroke-width="1.7" stroke-linejoin="round"/><path d="M8.9,4.83 V9.384" stroke="#e8692c" stroke-width="1.3"/><circle cx="8.9" cy="11.040000000000001" r="0.8" fill="#e8692c"/></svg><svg style="left:89.1px;top:250.5px" width="58.1" height="35" viewBox="0 0 58 35" overflow="visible"><g fill="none" stroke="#e8692c" stroke-width="1.7" stroke-linejoin="round"><path d="M0.8,12.5 H6.4 V34.2 H0.8 Z"/><path d="M6.4,12.5 C11,8 18,7.5 23.8,11 V31 C18,28 11,28.5 6.4,32"/><path d="M6.4,34.2 C12,31 18,31 23.8,33.5 C30,31 38,31 47.8,34.2 V20"/><path d="M23.8,11 V33.5"/><path d="M23.8,12 C25.5,11.5 27,11.5 28.5,12"/><circle cx="38.6" cy="10.7" r="9.6" stroke-width="2.295"/><path d="M32,7.5 L44.5,5.5 L43.5,17.5"/></g><path d="M46.5,19.5 L56.5,28" stroke="#e8692c" stroke-width="3.9099999999999997" stroke-linecap="butt"/></svg><svg style="left:490.6px;top:586.4px" width="50.4" height="44.9" viewBox="-3 -3 50.4 44.9"><path d="M22.2,1.5 L42.9,37.4 L1.5,37.4 Z" fill="none" stroke="#e8692c" stroke-width="3" stroke-linejoin="round"/><rect x="19.099999999999998" y="8.168999999999999" width="6.2" height="19.45" rx="3.1" fill="#e8692c"/><circle cx="22.2" cy="33.065" r="3.1" fill="#e8692c"/></svg><svg style="left:595.2px;top:600px" width="19.5" height="16.6" viewBox="-1 -1 19.5 16.6"><path d="M8.75,1 L16.5,13.6 L1,13.6 Z" fill="none" stroke="#e8692c" stroke-width="1.7" stroke-linejoin="round"/><path d="M8.75,5.109999999999999 V9.928" stroke="#e8692c" stroke-width="1.3"/><circle cx="8.75" cy="11.68" r="0.8" fill="#e8692c"/></svg><svg style="left:734px;top:469.5px" width="23" height="21" viewBox="0 0 23 21"><ellipse cx="11.5" cy="10.5" rx="10.2" ry="9.4" fill="none" stroke="#e8692c" stroke-width="1.8"/><text x="11.5" y="15" text-anchor="middle" font-family="Liberation Sans" font-weight="700" font-size="12.5" fill="#2a2a2a">A</text></svg>
</body></html>
